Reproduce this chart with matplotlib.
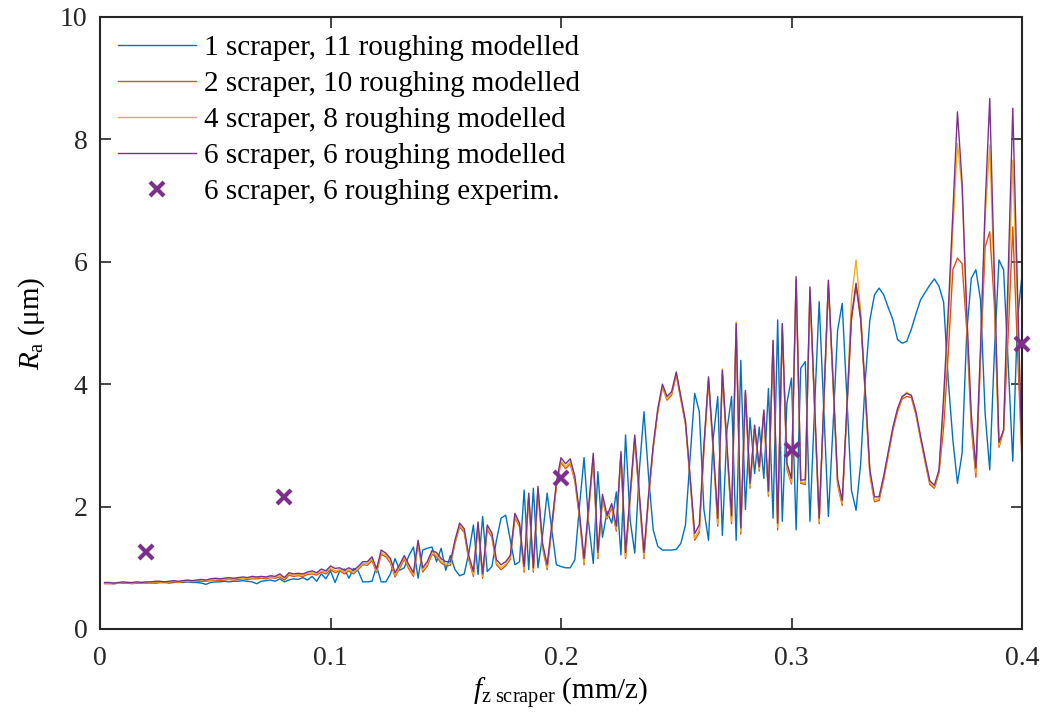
import matplotlib
matplotlib.use("Agg")
import matplotlib.pyplot as plt
import numpy as np

# feed per tooth, 0.002 ... 0.4 mm/z (200 samples)
fz = np.arange(1, 201) * 0.002

ra_1_scraper = [
    0.75, 0.75, 0.74, 0.75, 0.75, 0.76, 0.75, 0.75, 0.76, 0.75,
    0.76, 0.75, 0.76, 0.76, 0.75, 0.76, 0.77, 0.76, 0.77, 0.76,
    0.76, 0.75, 0.73, 0.76, 0.77, 0.77, 0.78, 0.77, 0.78, 0.78,
    0.79, 0.78, 0.77, 0.74, 0.78, 0.79, 0.80, 0.78, 0.82, 0.77,
    0.80, 0.82, 0.81, 0.84, 0.80, 0.86, 0.78, 0.90, 0.82, 0.95,
    0.76, 0.95, 0.98, 0.83, 0.99, 0.95, 0.77, 0.77, 0.78, 1.02,
    0.77, 0.77, 0.90, 1.15, 0.96, 1.00, 1.20, 1.34, 0.83, 1.29,
    1.32, 1.34, 1.10, 1.32, 0.96, 1.20, 0.97, 0.87, 0.90, 1.24,
    1.70, 0.89, 1.84, 0.94, 1.02, 1.45, 1.81, 1.86, 1.45, 1.05,
    1.10, 2.27, 0.97, 2.30, 1.00, 1.53, 2.22, 1.62, 1.05, 1.02,
    1.00, 1.00, 1.13, 2.00, 2.80, 1.73, 1.07, 2.57, 1.50, 1.92,
    1.73, 2.24, 1.21, 3.17, 1.78, 1.24, 2.60, 3.55, 2.49, 1.62,
    1.35, 1.29, 1.29, 1.29, 1.30, 1.40, 1.70, 2.80, 3.85, 3.55,
    1.95, 1.45, 3.10, 3.80, 1.53, 3.25, 3.80, 1.45, 4.39, 1.95,
    3.45, 2.54, 3.30, 2.46, 3.93, 1.81, 5.05, 1.76, 3.69, 4.10,
    1.62, 4.26, 4.37, 1.76, 3.60, 5.35, 3.60, 1.84, 3.30, 4.88,
    5.32, 3.80, 2.27, 1.94, 2.70, 4.07, 5.05, 5.46, 5.57, 5.46,
    5.25, 5.05, 4.73, 4.67, 4.70, 4.90, 5.15, 5.38, 5.50, 5.62,
    5.72, 5.60, 5.34, 4.07, 3.09, 2.38, 2.87, 4.83, 5.73, 5.87,
    5.38, 3.52, 2.60, 4.50, 6.03, 5.87, 4.34, 2.74, 5.05, 5.78,
]

ra_2_scraper = [
    0.74, 0.74, 0.74, 0.75, 0.75, 0.75, 0.74, 0.75, 0.75, 0.76,
    0.75, 0.76, 0.76, 0.76, 0.77, 0.77, 0.76, 0.77, 0.78, 0.77,
    0.78, 0.78, 0.78, 0.79, 0.80, 0.79, 0.80, 0.81, 0.80, 0.81,
    0.82, 0.81, 0.82, 0.82, 0.83, 0.82, 0.84, 0.83, 0.85, 0.80,
    0.88, 0.86, 0.87, 0.86, 0.89, 0.90, 0.88, 0.93, 0.90, 0.97,
    0.92, 0.95, 0.90, 0.95, 0.90, 0.97, 1.05, 1.04, 1.12, 0.92,
    1.22, 1.18, 1.08, 0.85, 0.99, 1.14, 0.98, 0.86, 1.38, 0.93,
    1.03, 1.22, 1.18, 1.08, 1.03, 1.04, 1.40, 1.67, 1.58, 1.13,
    0.86, 1.68, 0.83, 1.63, 1.50, 1.05, 0.97, 1.03, 1.14, 1.82,
    1.67, 0.93, 2.15, 0.93, 2.26, 1.33, 0.97, 1.63, 2.33, 2.72,
    2.62, 2.70, 2.42, 1.82, 1.05, 1.92, 2.80, 1.15, 2.12, 1.80,
    1.98, 1.60, 2.84, 1.15, 2.12, 3.10, 2.12, 1.15, 2.14, 2.95,
    3.55, 3.95, 3.74, 3.82, 4.15, 3.74, 3.34, 2.44, 1.45, 1.58,
    2.92, 4.06, 2.93, 1.68, 4.16, 2.93, 1.72, 4.92, 1.55, 3.85,
    2.30, 3.28, 2.58, 3.53, 2.17, 4.66, 1.62, 4.93, 2.62, 2.37,
    5.70, 2.38, 2.36, 5.52, 3.62, 1.72, 3.64, 5.62, 4.02, 2.36,
    2.02, 3.52, 5.05, 5.60, 5.05, 3.82, 2.52, 2.08, 2.10, 2.44,
    2.85, 3.25, 3.55, 3.76, 3.80, 3.78, 3.50, 3.10, 2.72, 2.36,
    2.30, 2.55, 3.30, 4.50, 5.87, 6.06, 5.97, 4.90, 3.30, 2.48,
    4.40, 6.24, 6.49, 5.30, 2.97, 3.24, 4.80, 6.57, 4.60, 2.75,
]

ra_4_scraper = [
    0.75, 0.75, 0.75, 0.75, 0.76, 0.76, 0.75, 0.76, 0.76, 0.76,
    0.76, 0.77, 0.77, 0.77, 0.77, 0.78, 0.77, 0.78, 0.79, 0.78,
    0.79, 0.80, 0.79, 0.80, 0.81, 0.81, 0.82, 0.82, 0.82, 0.83,
    0.83, 0.83, 0.84, 0.84, 0.85, 0.84, 0.85, 0.85, 0.87, 0.83,
    0.90, 0.88, 0.89, 0.88, 0.91, 0.92, 0.90, 0.95, 0.93, 1.00,
    0.95, 0.97, 0.93, 0.97, 0.93, 0.99, 1.07, 1.07, 1.15, 0.95,
    1.25, 1.21, 1.11, 0.88, 1.02, 1.17, 1.01, 0.89, 1.41, 0.96,
    1.06, 1.25, 1.21, 1.11, 1.06, 1.07, 1.42, 1.70, 1.61, 1.16,
    0.89, 1.71, 0.86, 1.66, 1.53, 1.08, 1.00, 1.06, 1.17, 1.85,
    1.70, 0.96, 2.18, 0.96, 2.29, 1.36, 1.00, 1.66, 2.36, 2.75,
    2.65, 2.73, 2.45, 1.85, 1.08, 1.95, 2.83, 1.18, 2.15, 1.82,
    2.01, 1.63, 2.86, 1.18, 2.15, 3.13, 2.15, 1.18, 2.16, 2.97,
    3.57, 3.97, 3.76, 3.85, 4.18, 3.77, 3.37, 2.47, 1.48, 1.62,
    2.95, 4.09, 2.96, 1.72, 4.25, 2.96, 1.76, 5.02, 1.58, 3.87,
    2.33, 3.30, 2.61, 3.55, 2.20, 4.70, 1.66, 4.96, 2.66, 2.40,
    5.72, 2.40, 2.39, 5.55, 3.65, 1.75, 3.66, 5.66, 4.05, 2.39,
    2.05, 3.60, 5.40, 6.03, 5.20, 3.86, 2.55, 2.11, 2.13, 2.47,
    2.88, 3.28, 3.58, 3.78, 3.87, 3.80, 3.52, 3.12, 2.75, 2.39,
    2.32, 2.57, 3.60, 5.00, 6.50, 7.93, 7.20, 5.10, 3.40, 2.55,
    4.50, 6.70, 7.91, 5.60, 3.00, 3.24, 5.40, 7.66, 5.30, 2.77,
]

ra_6_scraper = [
    0.76, 0.76, 0.75, 0.76, 0.77, 0.76, 0.76, 0.77, 0.76, 0.77,
    0.77, 0.78, 0.78, 0.77, 0.78, 0.79, 0.78, 0.79, 0.80, 0.79,
    0.80, 0.81, 0.80, 0.82, 0.83, 0.82, 0.83, 0.84, 0.83, 0.84,
    0.85, 0.84, 0.86, 0.85, 0.86, 0.85, 0.87, 0.86, 0.90, 0.84,
    0.92, 0.90, 0.91, 0.90, 0.93, 0.95, 0.92, 0.98, 0.95, 1.03,
    0.99, 1.00, 0.96, 1.00, 0.96, 1.02, 1.10, 1.10, 1.18, 0.98,
    1.29, 1.24, 1.15, 0.92, 1.05, 1.20, 1.05, 0.92, 1.45, 1.00,
    1.10, 1.28, 1.25, 1.15, 1.10, 1.10, 1.45, 1.73, 1.64, 1.20,
    0.94, 1.75, 0.90, 1.70, 1.57, 1.13, 1.05, 1.10, 1.20, 1.89,
    1.73, 1.02, 2.22, 1.00, 2.33, 1.40, 1.05, 1.70, 2.40, 2.80,
    2.70, 2.78, 2.50, 1.90, 1.15, 2.00, 2.87, 1.25, 2.20, 1.85,
    2.05, 1.68, 2.90, 1.25, 2.20, 3.17, 2.20, 1.25, 2.20, 3.00,
    3.60, 4.00, 3.80, 3.88, 4.20, 3.80, 3.40, 2.50, 1.56, 1.70,
    3.00, 4.12, 3.00, 1.81, 4.23, 3.00, 1.85, 4.99, 1.65, 3.90,
    2.38, 3.33, 2.65, 3.58, 2.25, 4.72, 1.73, 4.99, 2.71, 2.46,
    5.76, 2.43, 2.44, 5.59, 3.70, 1.81, 3.70, 5.70, 4.10, 2.45,
    2.10, 3.60, 5.10, 5.65, 5.10, 3.90, 2.60, 2.16, 2.16, 2.50,
    2.90, 3.30, 3.60, 3.80, 3.85, 3.82, 3.55, 3.15, 2.78, 2.42,
    2.35, 2.60, 3.80, 5.20, 6.80, 8.45, 7.30, 5.20, 3.50, 2.63,
    4.60, 6.90, 8.67, 5.80, 3.05, 3.25, 5.80, 8.51, 5.60, 2.80,
]

fz_exp = [0.02, 0.08, 0.2, 0.3, 0.4]
ra_exp = [1.26, 2.16, 2.46, 2.92, 4.66]

labels = [
    "1 scraper, 11 roughing modelled",
    "2 scraper, 10 roughing modelled",
    "4 scraper, 8 roughing modelled",
    "6 scraper, 6 roughing modelled",
    "6 scraper, 6 roughing experim.",
]
colors = ["#0072BD", "#D95319", "#EDB120", "#7E2F8E"]

plt.rcParams["font.family"] = ["Liberation Serif", "DejaVu Serif"]
plt.rcParams["mathtext.fontset"] = "custom"
plt.rcParams["mathtext.rm"] = "Liberation Serif"
plt.rcParams["mathtext.it"] = "Liberation Serif:italic"

fig = plt.figure(figsize=(10.44, 7.24), dpi=100)
ax = fig.add_axes([100 / 1044, 1 - 629 / 724, 922 / 1044, 612 / 724])

series = [ra_1_scraper, ra_2_scraper, ra_4_scraper, ra_6_scraper]
for ys, c, lab in zip(series, colors, labels[:4]):
    ax.plot(fz, ys, color=c, lw=1.0, label=lab)

ax.plot(fz_exp, ra_exp, linestyle="none", marker="x", ms=10, mew=3,
        color="#7E2F8E", label=labels[4], clip_on=False, zorder=5)

ax.set_xlim(0, 0.4)
ax.set_ylim(0, 10)
ax.set_xticks([0, 0.1, 0.2, 0.3, 0.4])
ax.set_xticklabels(["0", "0.1", "0.2", "0.3", "0.4"])
ax.set_yticks([0, 2, 4, 6, 8, 10])

ax.tick_params(direction="in", top=True, right=True, length=8, width=1.2,
               labelsize=20, colors="#262626")
ax.tick_params(axis="x", pad=12)
ax.tick_params(axis="y", pad=9)
for sp in ax.spines.values():
    sp.set_linewidth(1.5)
    sp.set_color("#262626")

ax.set_xlabel(r"$f_{\mathrm{z\ scraper}}$ (mm/z)", fontsize=21, labelpad=4)
ax.set_ylabel(r"$R_{\mathrm{a}}$ (μm)", fontsize=21, labelpad=9)

leg = ax.legend(loc="upper left", frameon=False, fontsize=21,
                handlelength=2.7, handletextpad=0.25, labelspacing=0.33,
                borderaxespad=0.3, borderpad=0.3)

fig.savefig("out.png", dpi=100)
